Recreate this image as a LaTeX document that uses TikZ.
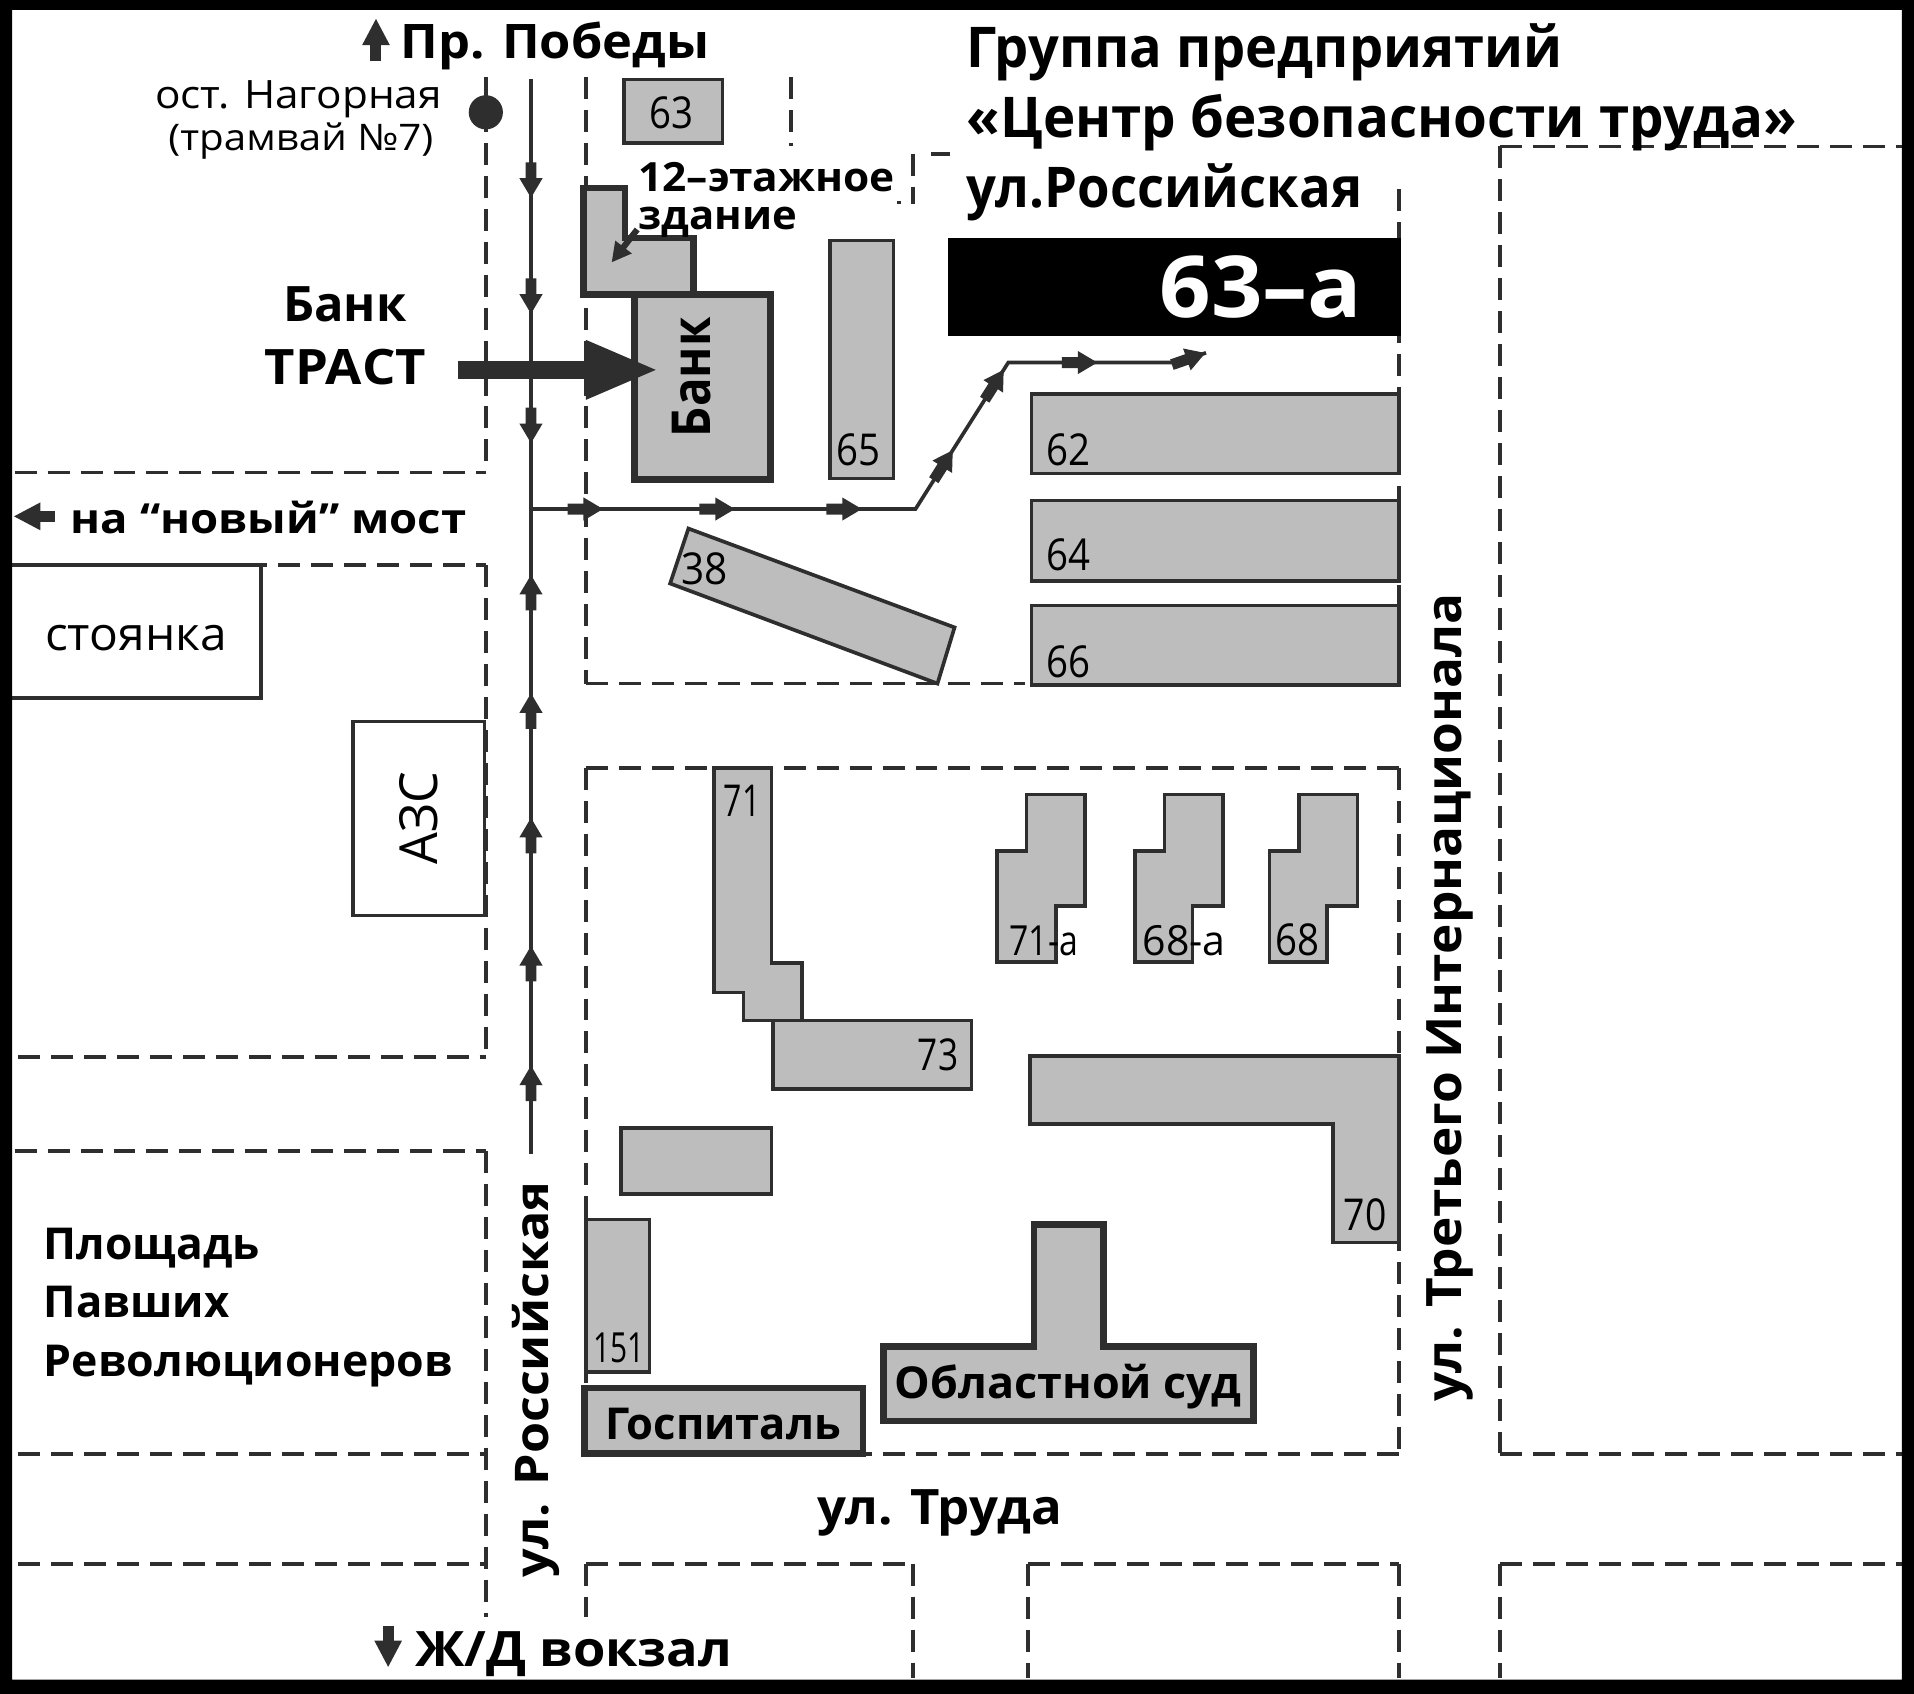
\documentclass[tikz,border=0pt]{standalone}
\usepackage{fontspec}
\usepackage{graphicx}
\setmainfont{Open Sans}
\usetikzlibrary{arrows.meta,decorations.markings}
\definecolor{bfill}{HTML}{BDBDBD}
\definecolor{ink}{HTML}{2E2E2E}
\newcommand\fsz[1]{\fontsize{#1}{#1}\selectfont}
% name, x, baseline y, width, size, text
\newcommand\bt[6]{\node[txt] (#1) at (#2,#3) {\resizebox{#4pt}{\height}{\fsz{#5}\bfseries #6}};}
\newcommand\rt[6]{\node[txt] (#1) at (#2,#3) {\resizebox{#4pt}{\height}{\fsz{#5}#6}};}
\newcommand\bv[6]{\node[txt,rotate=90] (#1) at (#2,#3) {\resizebox{#4pt}{\height}{\fsz{#5}\bfseries #6}};}
\newcommand\rv[6]{\node[txt,rotate=90] (#1) at (#2,#3) {\resizebox{#4pt}{\height}{\fsz{#5}#6}};}
% stemmed arrowhead placed along a path, its point on the mark
\newcommand\mk{\fill[ink] (0pt,0pt) -- (-16pt,9.5pt) -- (-16pt,4.5pt) -- (-29pt,4.5pt) -- (-29pt,-4.5pt) -- (-16pt,-4.5pt) -- (-16pt,-9.5pt) -- cycle;}
\tikzset{
  txt/.style={anchor=base west,inner sep=0pt,outer sep=0pt},
  dashline/.style={draw=ink,line width=3pt,dash pattern=on 18pt off 9pt},
  bld/.style={draw=ink,fill=bfill,line width=3pt,line join=miter},
  bldthick/.style={draw=ink,fill=bfill,line width=5.5pt,line join=miter},
  road/.style={draw=ink,line width=3pt},
  smalltip/.style={ink,line width=9pt,-{Triangle[length=22pt,width=21pt]}}
}
\begin{document}
\begin{tikzpicture}[x=1pt,y=-1pt]
\useasboundingbox (0,0) rectangle (1568,1387.7);
\fill[white] (0,0) rectangle (1568,1387.7);

% --- streets (dashed kerbs)
\foreach \a/\b/\c in {398/63/385, 398/463/865, 398/943/1325, 480/63/560, 480/629/1190, 480/1281/1325,
  648/63/120, 748/126/167, 748/1281/1375, 842/1281/1375, 1146/155/561, 1146/629/1190, 1146/1281/1375,
  1229/120/1190, 1229/1281/1375}
  \draw[dashline] (\a,\b) -- (\a,\c);
\foreach \a/\b/\c in {387/12/398, 463/12/398, 866/15/398, 943/12/398, 1191/15/398, 1281/15/398,
  560/480/840, 629/480/1146, 1191/480/1146, 1281/480/748, 1281/842/1146, 120/1229/1558,
  1191/1229/1558, 1281/1229/1558}
  \draw[dashline] (\b,\a) -- (\c,\a);
\draw[ink,line width=3pt] (763,126) -- (778,126);
\draw[ink,line width=3pt] (735,166) -- (738,166);

% --- plain boxes
\draw[ink,line width=3pt,fill=white] (8,463) rectangle (214,572);
\draw[ink,line width=3pt,fill=white] (289,591) rectangle (397,750);

% --- buildings
\draw[bld] (511,65) rectangle (592,117);
\draw[bldthick] (478,154) -- (512,154) -- (512,195) -- (568,195) -- (568,241) -- (478,241) -- cycle;
\draw[bldthick] (520,241) rectangle (631,393);
\draw[bld] (680,197) rectangle (732,392);
\fill[black] (777,195) rectangle (1148,275);
\draw[bld] (845,323) rectangle (1146,388);
\draw[bld] (845,410) rectangle (1146,476);
\draw[bld] (845,496) rectangle (1146,561);
\draw[bld] (564,433) -- (782,514) -- (768,560) -- (549,478) -- cycle;
\draw[bld] (585,629) -- (632,629) -- (632,789) -- (657,789) -- (657,836) -- (609,836) -- (609,813) -- (585,813) -- cycle;
\draw[bld] (633,836) rectangle (796,892);
\draw[bld] (841,651) -- (889,651) -- (889,742) -- (865,742) -- (865,788) -- (817,788) -- (817,697) -- (841,697) -- cycle;
\draw[bld] (954,651) -- (1002,651) -- (1002,742) -- (977,742) -- (977,788) -- (930,788) -- (930,697) -- (954,697) -- cycle;
\draw[bld] (1064,651) -- (1112,651) -- (1112,742) -- (1087,742) -- (1087,788) -- (1040,788) -- (1040,697) -- (1064,697) -- cycle;
\draw[bld] (844,865) -- (1146,865) -- (1146,1018) -- (1092,1018) -- (1092,921) -- (844,921) -- cycle;
\draw[bld] (509,924) rectangle (632,978);
\draw[bld] (480,999) rectangle (532,1124);
\draw[bldthick] (479,1137) rectangle (707,1191);
\draw[bldthick] (847,1003) -- (904,1003) -- (904,1103) -- (1027,1103) -- (1027,1164) -- (724,1164) -- (724,1103) -- (847,1103) -- cycle;

% --- the route
\coordinate (rtop) at (435,65);
\coordinate (rjoin) at (435,417);
\coordinate (rbot) at (435,945);
\coordinate (bknee1) at (750,417);
\coordinate (bknee2) at (826,297);
\coordinate (bknee3) at (965,297);
\coordinate (bend) at (988,289);
\draw[road,postaction={decorate},decoration={markings,
  mark=at position 97pt with {\mk},
  mark=at position 192pt with {\mk},
  mark=at position 298pt with {\mk}}] (rtop) -- (rjoin);
\draw[road,postaction={decorate},decoration={markings,
  mark=at position 72pt with {\mk},
  mark=at position 170pt with {\mk},
  mark=at position 275pt with {\mk},
  mark=at position 377pt with {\mk},
  mark=at position 474pt with {\mk}}] (rbot) -- (rjoin);
\draw[road,postaction={decorate},decoration={markings,
  mark=at position 59pt with {\mk},
  mark=at position 167pt with {\mk},
  mark=at position 271pt with {\mk},
  mark=at position 372pt with {\mk},
  mark=at position 450pt with {\mk},
  mark=at position 530pt with {\mk},
  mark=at position 0.999 with {\mk}}] (rjoin) -- (bknee1) -- (bknee2) -- (bknee3) -- (bend);

% --- big arrow to the bank
\coordinate (bigtail) at (375,303);
\coordinate (bigtip) at (540,303);
\draw[ink,line width=15pt,-{Triangle[length=60pt,width=44pt]}] (bigtail) -- (bigtip);

% --- small arrows
\coordinate (ta) at (522,188);
\coordinate (tb) at (501,215);
\draw[ink,line width=5pt,-{Triangle[length=16pt,width=16pt]}] (ta) -- (tb);
\coordinate (ua) at (308,50);
\coordinate (ub) at (308,15);
\draw[smalltip] (ua) -- (ub);
\coordinate (da) at (318,1332);
\coordinate (db) at (318,1366);
\draw[smalltip] (da) -- (db);
\coordinate (la) at (45,423);
\coordinate (lb) at (11,423);
\draw[smalltip] (la) -- (lb);

% --- tram stop
\node[circle,fill=ink,minimum size=28pt,inner sep=0pt] (stop) at (398,92) {};

% --- labels
\bt{pobedy}{328}{48}{253}{39}{Пр. Победы}
\rt{ost}{127}{89}{235}{32}{ост. Нагорная}
\rt{tram}{138}{123}{217}{30}{(трамвай №7)}
\bt{t1}{792}{55}{488}{46}{Группа предприятий}
\bt{t2}{792}{113}{680}{46}{«Центр безопасности труда»}
\bt{t3}{792}{170}{324}{46}{ул.Российская}
\node[txt,text=white] (num) at (950,260) {\resizebox{166pt}{\height}{\fsz{70}\bfseries 63–а}};
\bt{et}{523}{157}{210}{33}{12–этажное}
\bt{zd}{523}{188}{130}{33}{здание}
\bt{bank1}{232}{263}{101}{40}{Банк}
\bt{trast}{217}{315}{132}{40}{ТРАСТ}
\bv{bank2}{582}{358}{98}{44}{Банк}
\bt{most}{58}{437}{324}{34}{на “новый” мост}
\rt{park}{37}{533}{149}{38}{стоянка}
\rv{azs}{358}{708}{76}{43}{АЗС}
\bt{pl1}{36}{1032}{177}{36}{Площадь}
\bt{pl2}{36}{1079}{152}{36}{Павших}
\bt{pl3}{36}{1128}{335}{36}{Революционеров}
\bt{trud}{670}{1249}{200}{40}{ул. Труда}
\bt{vokz}{340}{1365}{260}{40}{Ж/Д вокзал}
\bt{gosp}{496}{1179}{193}{36}{Госпиталь}
\bt{sud}{733}{1146}{284}{36}{Областной суд}
\bv{ros}{449}{1292}{324}{38}{ул. Российская}
\bv{int}{1197}{1148}{662}{40}{ул. Третьего Интернационала}
\rt{n63}{532}{105}{36}{36}{63}
\rt{n65}{685}{381}{36}{36}{65}
\rt{n62}{857}{381}{36}{36}{62}
\rt{n64}{857}{467}{36}{36}{64}
\rt{n66}{857}{555}{36}{36}{66}
\rt{n38}{558}{479}{38}{36}{38}
\rt{n71}{593}{669}{30}{36}{71}
\rt{n73}{752}{877}{33}{36}{73}
\rt{n71a}{827}{783}{56}{34}{71-а}
\rt{n68a}{936}{783}{68}{34}{68-а}
\rt{n68}{1045}{783}{36}{36}{68}
\rt{n70}{1101}{1008}{35}{36}{70}
\rt{n151}{486}{1116}{42}{34}{151}

% --- frame
\fill[black,even odd rule] (0,0) rectangle (1568,1387.7) (10,8) rectangle (1558,1376);
\end{tikzpicture}
\end{document}
